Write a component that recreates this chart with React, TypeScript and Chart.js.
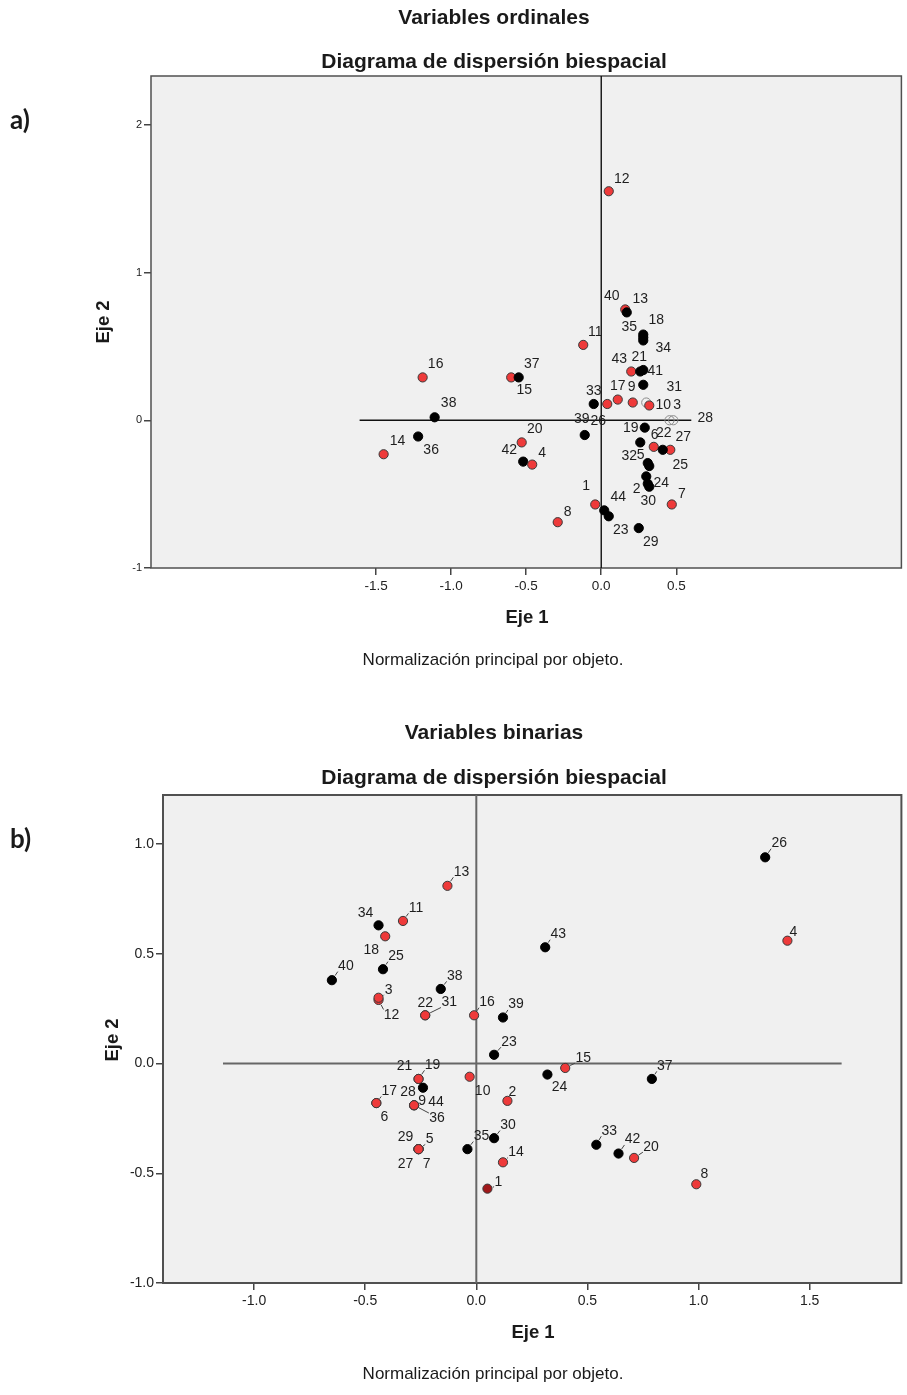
import React, { useEffect, useRef } from "react";
import { Chart, registerables } from "chart.js";

Chart.register(...registerables);

const FONT = "'Liberation Sans', Arial, sans-serif";
const RED = "#ee3a3a";
const DARKRED = "#a0181a";

// ---------------- a) Variables ordinales ----------------
const aPointLabels = ["12", "13", "40", "18", "35", "34", "11", "43", "21", "41", "31", "33", "26", "17", "9", "3", "10", "28", "", "16", "15", "37", "38", "36", "14", "20", "42", "4", "39", "19", "32", "6", "27", "22", "5", "25", "24", "2", "30", "7", "44", "1", "23", "29", "8"];
const aEje1 = [0.05, 0.16, 0.17, 0.28, 0.28, 0.28, -0.12, 0.2, 0.26, 0.28, 0.28, -0.05, 0.04, 0.11, 0.21, 0.3, 0.32, 0.48, 0.455, -1.19, -0.6, -0.55, -1.11, -1.22, -1.45, -0.53, -0.52, -0.46, -0.11, 0.29, 0.26, 0.35, 0.46, 0.41, 0.31, 0.32, 0.3, 0.31, 0.32, 0.47, 0.02, -0.04, 0.05, 0.25, -0.29];
const aEje2 = [1.55, 0.75, 0.73, 0.56, 0.58, 0.54, 0.51, 0.33, 0.33, 0.34, 0.24, 0.11, 0.11, 0.14, 0.12, 0.12, 0.1, 0.0, 0.0, 0.29, 0.29, 0.29, 0.02, -0.11, -0.23, -0.15, -0.28, -0.3, -0.1, -0.05, -0.15, -0.18, -0.2, -0.2, -0.29, -0.31, -0.38, -0.43, -0.45, -0.57, -0.61, -0.57, -0.65, -0.73, -0.69];
const aGroup = ["r", "r", "k", "k", "k", "k", "r", "r", "k", "k", "k", "k", "r", "r", "r", "h", "r", "h", "h", "r", "r", "k", "k", "k", "r", "r", "k", "r", "k", "k", "k", "r", "r", "k", "k", "k", "k", "k", "k", "r", "k", "r", "k", "k", "r"];
const aXTicks = [-1.5, -1.0, -0.5, 0.0, 0.5];
const aYTicks = [-1, 0, 1, 2];
const aXRange = [-3.0, 2.0];
const aYRange = [-1.0, 2.33];
const aZeroLineExtent = [-1.61, 0.6];

// label placement (pixel offsets from the point, style only)
const aLabelOffsets = [[13, -12], [15, -10], [-15, -16], [13, -17], [-14, -7], [20, 8], [12, -13], [-12, -12], [-1, -14], [12, 1], [31, 2], [0, -13], [-9, 17], [0, -13], [-1, -15], [31, 3], [14, 0], [32, -2], [0, 0], [13, -13], [13, 13], [13, -13], [14, -14], [13, 14], [14, -13], [13, -13], [-14, -11], [10, -11], [-3, -16], [-14, 1], [-11, 14], [1, -12], [13, -13], [1, -17], [-7, -8], [31, -1], [15, 7], [-11, 5], [-1, 14], [10, -10], [14, -13], [-9, -18], [12, 14], [12, 14], [10, -10]];

// ---------------- b) Variables binarias ----------------
const bPointLabels = ["26", "4", "43", "13", "34", "11", "18", "25", "40", "38", "12", "3", "31", "22", "16", "39", "23", "15", "24", "37", "2", "10", "21", "19", "44", "6", "17", "28", "36", "9", "29", "27", "7", "5", "35", "30", "14", "1", "33", "42", "20", "8"];
const bEje1 = [1.3, 1.4, 0.31, -0.13, -0.44, -0.33, -0.41, -0.42, -0.65, -0.16, -0.44, -0.44, -0.23, -0.23, -0.01, 0.12, 0.08, 0.4, 0.32, 0.79, 0.14, -0.03, -0.26, -0.26, -0.24, -0.45, -0.45, -0.28, -0.28, -0.28, -0.26, -0.26, -0.26, -0.26, -0.04, 0.08, 0.12, 0.05, 0.54, 0.64, 0.71, 0.99];
const bEje2 = [0.94, 0.56, 0.53, 0.81, 0.63, 0.65, 0.58, 0.43, 0.38, 0.34, 0.29, 0.3, 0.22, 0.22, 0.22, 0.21, 0.04, -0.02, -0.05, -0.07, -0.17, -0.06, -0.07, -0.07, -0.11, -0.18, -0.18, -0.19, -0.19, -0.19, -0.39, -0.39, -0.39, -0.39, -0.39, -0.34, -0.45, -0.57, -0.37, -0.41, -0.43, -0.55];
const bGroup = ["k", "r", "k", "r", "k", "r", "r", "k", "k", "k", "r", "r", "r", "r", "r", "k", "k", "r", "k", "k", "r", "r", "r", "r", "k", "r", "r", "r", "r", "r", "r", "r", "r", "r", "k", "k", "r", "d", "k", "k", "r", "r"];
const bXTicks = [-1.0, -0.5, 0.0, 0.5, 1.0, 1.5];
const bYTicks = [-1.0, -0.5, 0.0, 0.5, 1.0];
const bXRange = [-1.41, 1.913];
const bYRange = [-1.0, 1.224];
const bZeroLineExtent = [-1.14, 1.644];

const bLabelOffsets = [[14, -14], [6, -9], [13, -13], [14, -14], [-13, -12], [13, -13], [-14, 14], [13, -13], [14, -14], [14, -13], [13, 15], [10, -8], [24, -13], [0, -12], [13, -13], [13, -13], [15, -13], [18, -10], [12, 13], [13, -13], [5, -9], [13, 14], [-14, -13], [14, -14], [13, 14], [8, 14], [13, -12], [-6, -13], [23, 13], [8, -4], [-13, -12], [-13, 15], [8, 15], [11, -10], [14, -13], [14, -13], [13, -10], [11, -7], [13, -14], [14, -14], [17, -11], [8, -10]];

type TextItem = { t: string; x: number; y: number; font: string; align?: CanvasTextAlign; rot?: boolean };

interface Spec {
  top: number;
  height: number;
  plot: { left: number; right: number; top: number; bottom: number };
  labels: string[];
  xs: number[];
  ys: number[];
  groups: string[];
  offsets: number[][];
  leaders: boolean;
  leaderExtra: string[];
  xTicks: number[];
  yTicks: number[];
  xRange: number[];
  yRange: number[];
  xDec: number;
  yDec: number;
  zeroExt: number[];
  refColor: string;
  refWidth: number;
  borderWidth: number;
  xTickFont: number;
  yTickFont: number;
  texts: TextItem[];
}

const LABEL_FONT = `14px ${FONT}`;

function makeChart(canvas: HTMLCanvasElement, s: Spec) {
  const W = 907;
  const padTop = s.plot.top - s.top;
  const padRight = W - s.plot.right;
  const yW = s.plot.left;
  const xH = s.top + s.height - s.plot.bottom;

  const fill = s.groups.map((g) => (g === "r" ? RED : g === "d" ? DARKRED : g === "k" ? "#000000" : "rgba(0,0,0,0)"));
  const stroke = s.groups.map((g) => (g === "r" || g === "d" ? "#3a3a3a" : g === "k" ? "#000000" : "#8c8c8c"));
  const pts = s.xs.map((x, i) => ({ x, y: s.ys[i] }));

  const bgPlugin = {
    id: "bgPlot",
    beforeDraw(chart: any) {
      const { ctx, chartArea: a } = chart;
      ctx.save();
      ctx.fillStyle = "#f0f0f0";
      ctx.fillRect(a.left, a.top, a.right - a.left, a.bottom - a.top);
      ctx.restore();
    },
    beforeDatasetsDraw(chart: any) {
      const { ctx, chartArea: a } = chart;
      ctx.save();
      ctx.strokeStyle = "#505050";
      ctx.lineWidth = s.borderWidth;
      ctx.strokeRect(a.left, a.top, a.right - a.left, a.bottom - a.top);
      ctx.restore();
    },
  };

  const labelPlugin = {
    id: "pointLabels",
    afterDatasetsDraw(chart: any) {
      const { ctx } = chart;
      const meta = chart.getDatasetMeta(2);
      ctx.save();
      ctx.font = LABEL_FONT;
      ctx.fillStyle = "#1e1e1e";
      ctx.textAlign = "center";
      ctx.textBaseline = "middle";
      meta.data.forEach((el: any, i: number) => {
        const lab = s.labels[i];
        if (!lab) return;
        const [dx, dy] = s.offsets[i];
        const cx = el.x + dx;
        const cy = el.y + dy;
        ctx.fillText(lab, cx, cy);
        if (s.leaders && ((dx > 0 && dy < 0) || s.leaderExtra.indexOf(lab) >= 0)) {
          const w = ctx.measureText(lab).width;
          const h = 10;
          const nx = Math.max(cx - w / 2, Math.min(el.x, cx + w / 2));
          const ny = Math.max(cy - h / 2, Math.min(el.y, cy + h / 2));
          const vx = nx - el.x;
          const vy = ny - el.y;
          const d = Math.hypot(vx, vy);
          const r0 = 5.5;
          if (d > r0 + 1) {
            ctx.beginPath();
            ctx.strokeStyle = "#444";
            ctx.lineWidth = 1;
            ctx.moveTo(el.x + (vx / d) * r0, el.y + (vy / d) * r0);
            ctx.lineTo(el.x + (vx / d) * (d - 0.5), el.y + (vy / d) * (d - 0.5));
            ctx.stroke();
          }
        }
      });
      ctx.restore();
    },
  };

  const textPlugin = {
    id: "pageTexts",
    afterDraw(chart: any) {
      const { ctx } = chart;
      ctx.save();
      ctx.fillStyle = "#1a1a1a";
      ctx.textBaseline = "middle";
      s.texts.forEach((t) => {
        ctx.font = t.font;
        ctx.textAlign = t.align || "center";
        if (t.rot) {
          ctx.save();
          ctx.translate(t.x, t.y - s.top);
          ctx.rotate(-Math.PI / 2);
          ctx.fillText(t.t, 0, 0);
          ctx.restore();
        } else {
          ctx.fillText(t.t, t.x, t.y - s.top);
        }
      });
      ctx.restore();
    },
  };

  const refLine = (data: { x: number; y: number }[]) => ({
    type: "scatter" as const,
    data,
    showLine: true,
    borderColor: s.refColor,
    borderWidth: s.refWidth,
    pointRadius: 0,
    fill: false,
    order: 5,
  });

  return new Chart(canvas, {
    type: "scatter",
    data: {
      datasets: [
        refLine([
          { x: s.zeroExt[0], y: 0 },
          { x: s.zeroExt[1], y: 0 },
        ]),
        refLine([
          { x: 0, y: s.yRange[0] },
          { x: 0, y: s.yRange[1] },
        ]),
        {
          type: "scatter",
          data: pts,
          pointRadius: 4.6,
          pointBackgroundColor: fill,
          pointBorderColor: stroke,
          pointBorderWidth: 1,
          order: 1,
        } as any,
      ],
    },
    options: {
      animation: false,
      responsive: false,
      devicePixelRatio: 1,
      layout: { padding: { top: padTop, right: padRight, left: 0, bottom: 0 } },
      plugins: { legend: { display: false }, tooltip: { enabled: false }, title: { display: false } },
      scales: {
        x: {
          type: "linear",
          min: s.xRange[0],
          max: s.xRange[1],
          afterFit: (sc: any) => {
            sc.height = xH;
          },
          afterBuildTicks: (sc: any) => {
            sc.ticks = s.xTicks.map((v) => ({ value: v }));
          },
          ticks: {
            callback: (v: any) => Number(v).toFixed(s.xDec),
            font: { family: FONT, size: s.xTickFont },
            color: "#222",
            padding: 3,
            autoSkip: false,
            maxRotation: 0,
          },
          grid: { drawOnChartArea: false, drawTicks: true, tickLength: 7, color: "#444", tickColor: "#444", lineWidth: 1.5 },
          border: { display: false },
        },
        y: {
          type: "linear",
          min: s.yRange[0],
          max: s.yRange[1],
          afterFit: (sc: any) => {
            sc.width = yW;
          },
          afterBuildTicks: (sc: any) => {
            sc.ticks = s.yTicks.map((v) => ({ value: v }));
          },
          ticks: {
            callback: (v: any) => Number(v).toFixed(s.yDec),
            font: { family: FONT, size: s.yTickFont },
            color: "#222",
            padding: 2,
            autoSkip: false,
          },
          grid: { drawOnChartArea: false, drawTicks: true, tickLength: 7, color: "#444", tickColor: "#444", lineWidth: 1.5 },
          border: { display: false },
        },
      },
    },
    plugins: [bgPlugin, labelPlugin, textPlugin],
  } as any);
}

const TITLE_FONT = `bold 21px ${FONT}`;
const AXIS_FONT = `bold 18.5px ${FONT}`;
const NOTE_FONT = `17px ${FONT}`;
const PANEL_FONT = `bold 26px Lato, 'Open Sans', sans-serif`;

const specA: Spec = {
  top: 0,
  height: 690,
  plot: { left: 151, right: 905, top: 76, bottom: 568 },
  labels: aPointLabels,
  xs: aEje1,
  ys: aEje2,
  groups: aGroup,
  offsets: aLabelOffsets,
  leaders: false,
  leaderExtra: [],
  xTicks: aXTicks,
  yTicks: aYTicks,
  xRange: aXRange,
  yRange: aYRange,
  xDec: 1,
  yDec: 0,
  zeroExt: aZeroLineExtent,
  refColor: "#111",
  refWidth: 1.4,
  borderWidth: 1.5,
  xTickFont: 13.5,
  yTickFont: 11,
  texts: [
    { t: "Variables ordinales", x: 494, y: 18.5, font: TITLE_FONT },
    { t: "Diagrama de dispersión biespacial", x: 494, y: 62, font: TITLE_FONT },
    { t: "a)", x: 10, y: 121, font: PANEL_FONT, align: "left" },
    { t: "Eje 2", x: 104, y: 322, font: AXIS_FONT, rot: true },
    { t: "Eje 1", x: 527, y: 618, font: AXIS_FONT },
    { t: "Normalización principal por objeto.", x: 493, y: 660, font: NOTE_FONT },
  ],
};

const specB: Spec = {
  top: 690,
  height: 705,
  plot: { left: 163, right: 905, top: 795, bottom: 1283 },
  labels: bPointLabels,
  xs: bEje1,
  ys: bEje2,
  groups: bGroup,
  offsets: bLabelOffsets,
  leaders: true,
  leaderExtra: ["36", "12"],
  xTicks: bXTicks,
  yTicks: bYTicks,
  xRange: bXRange,
  yRange: bYRange,
  xDec: 1,
  yDec: 1,
  zeroExt: bZeroLineExtent,
  refColor: "#666",
  refWidth: 2,
  borderWidth: 2,
  xTickFont: 14,
  yTickFont: 14,
  texts: [
    { t: "Variables binarias", x: 494, y: 733, font: TITLE_FONT },
    { t: "Diagrama de dispersión biespacial", x: 494, y: 778, font: TITLE_FONT },
    { t: "b)", x: 10, y: 840, font: PANEL_FONT, align: "left" },
    { t: "Eje 2", x: 113, y: 1040, font: AXIS_FONT, rot: true },
    { t: "Eje 1", x: 533, y: 1333, font: AXIS_FONT },
    { t: "Normalización principal por objeto.", x: 493, y: 1374, font: NOTE_FONT },
  ],
};

function ChartCanvas({ spec }: { spec: Spec }) {
  const ref = useRef<HTMLCanvasElement | null>(null);
  useEffect(() => {
    if (!ref.current) return;
    const c = makeChart(ref.current, spec);
    return () => c.destroy();
  }, [spec]);
  return (
    <canvas
      ref={ref}
      width={907}
      height={spec.height}
      style={{ position: "absolute", left: 0, top: spec.top, width: 907, height: spec.height, display: "block" }}
    />
  );
}

export default function App() {
  return (
    <div style={{ position: "absolute", left: 0, top: 0, width: 907, height: 1395, background: "#ffffff" }}>
      <ChartCanvas spec={specA} />
      <ChartCanvas spec={specB} />
    </div>
  );
}
